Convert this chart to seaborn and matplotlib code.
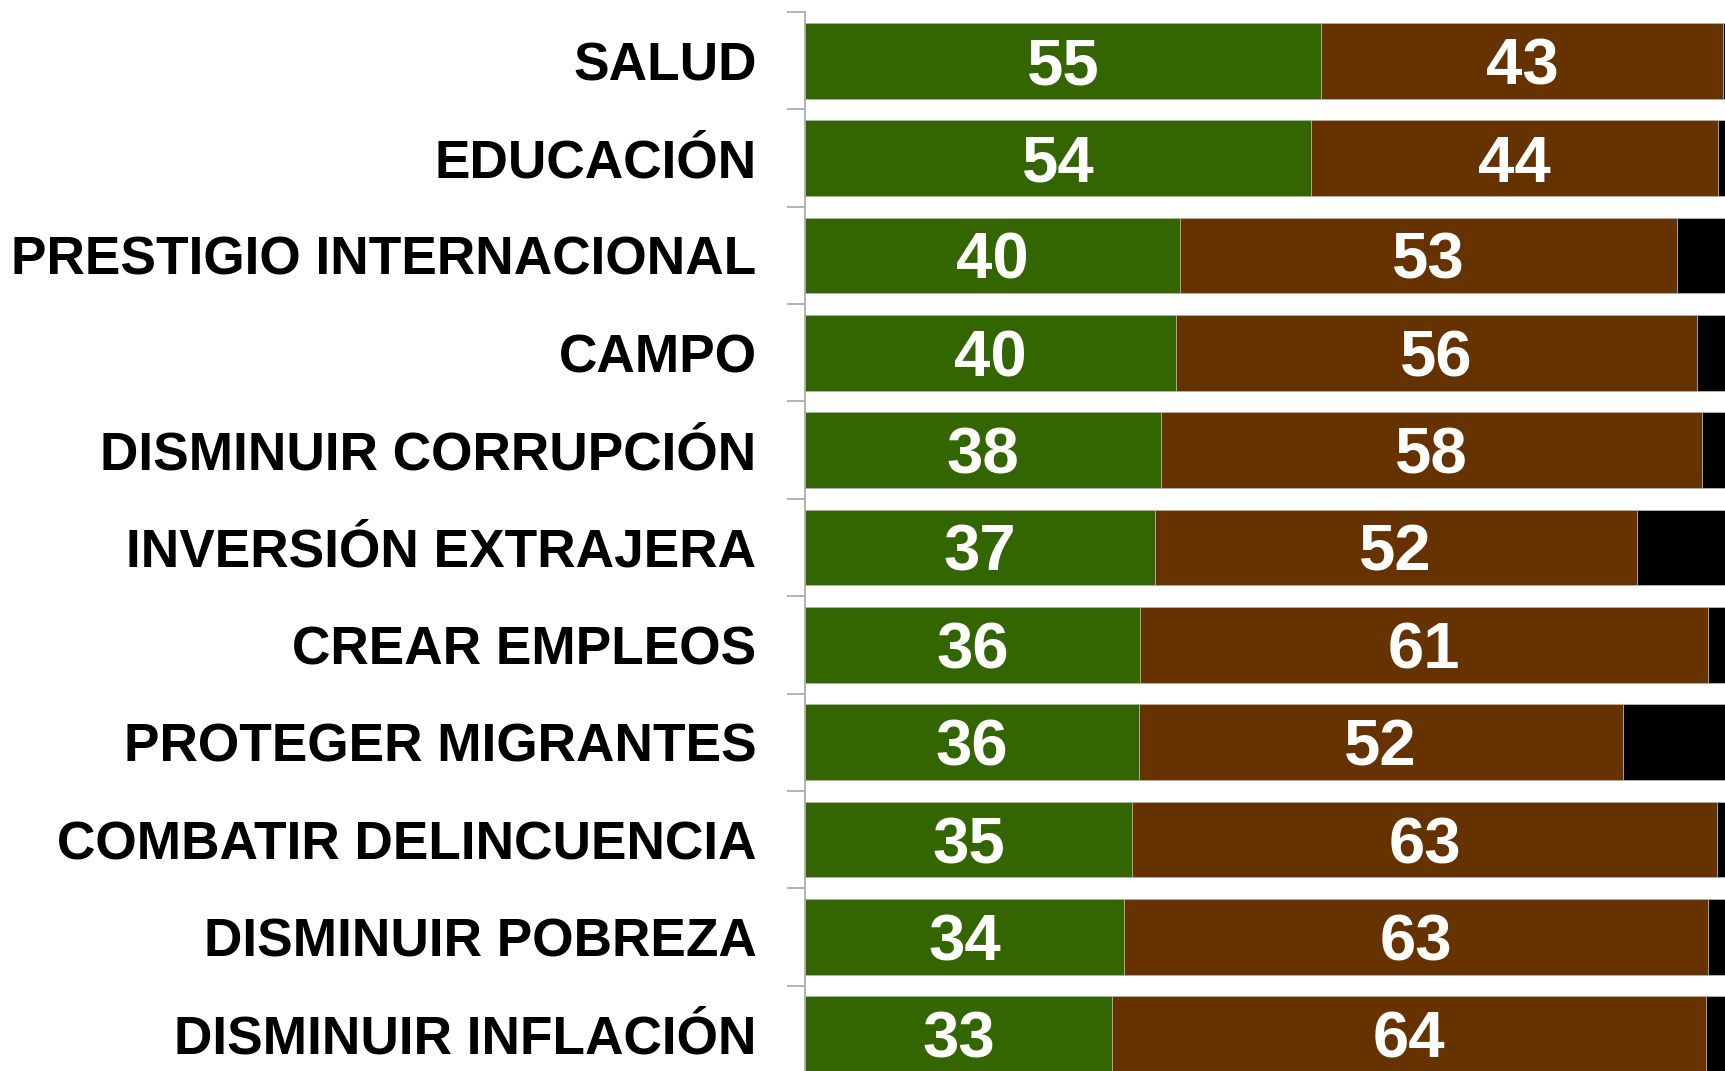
import numpy as np
import pandas as pd
import matplotlib
matplotlib.use("Agg")
import matplotlib.pyplot as plt
import seaborn as sns

sns.set_theme(style="white")
plt.rcParams['font.family'] = ['Liberation Sans', 'DejaVu Sans']

# Data (percent)
temas = ["SALUD", "EDUCACIÓN", "PRESTIGIO INTERNACIONAL", "CAMPO",
         "DISMINUIR CORRUPCIÓN", "INVERSIÓN EXTRAJERA", "CREAR EMPLEOS",
         "PROTEGER MIGRANTES", "COMBATIR DELINCUENCIA", "DISMINUIR POBREZA",
         "DISMINUIR INFLACIÓN"]
bien = [55.2, 54.1, 40.1, 39.7, 38.1, 37.4, 35.8, 35.7, 35.0, 34.1, 32.8]
mal = [43.1, 43.6, 53.2, 55.8, 57.9, 51.6, 60.9, 51.8, 62.6, 62.6, 63.6]
ns_nc = [1.7, 2.3, 6.7, 4.5, 4.0, 11.0, 3.3, 12.5, 2.4, 3.3, 3.6]

df = pd.DataFrame({"tema": temas, "bien": bien, "mal": mal, "ns": ns_nc})
df["bien_mal"] = df["bien"] + df["mal"]
df["total"] = df["bien_mal"] + df["ns"]

verde = "#336600"
cafe = "#663300"
negro = "#000000"

fig = plt.figure(figsize=(17.25, 10.71), dpi=100)
ax = fig.add_axes([0.4668, -0.0112, 0.5332, 1.0])

# stacked look: draw cumulative totals back to front
bw = 0.777
sns.barplot(data=df, x="total", y="tema", color=negro, width=bw, orient="h",
            ax=ax, saturation=1, edgecolor="#b8b8b8", linewidth=0.6)
sns.barplot(data=df, x="bien_mal", y="tema", color=cafe, width=bw, orient="h",
            ax=ax, saturation=1, edgecolor="#b8b8b8", linewidth=0.6)
sns.barplot(data=df, x="bien", y="tema", color=verde, width=bw, orient="h",
            ax=ax, saturation=1, edgecolor="#b8b8b8", linewidth=0.6)

# value labels in the green and brown segments
for i, row in df.iterrows():
    ax.text(row["bien"] / 2, i, f"{row['bien']:.0f}", color="white",
            fontsize=47, fontweight="bold", ha="center", va="center_baseline")
    ax.text(row["bien"] + row["mal"] / 2, i, f"{row['mal']:.0f}", color="white",
            fontsize=47, fontweight="bold", ha="center", va="center_baseline")

ax.set_xlim(0, 98.47)
ax.set_ylim(len(temas) - 0.5, -0.5)
ax.set_xlabel("")
ax.set_ylabel("")
ax.set_xticks([])

ax.tick_params(axis="y", which="major", length=0, pad=35, labelsize=38.3)
for lab in ax.get_yticklabels():
    lab.set_fontweight("bold")
    lab.set_color("black")
ax.set_yticks(np.arange(-0.5, len(temas), 1.0), minor=True)
ax.tick_params(axis="y", which="minor", length=13, width=1.2, color="#a6a6a6",
               direction="out", left=True)

for s in ["top", "right", "bottom"]:
    ax.spines[s].set_visible(False)
ax.spines["left"].set_color("#a6a6a6")
ax.spines["left"].set_linewidth(1.2)

fig.savefig("out.png", dpi=100)
